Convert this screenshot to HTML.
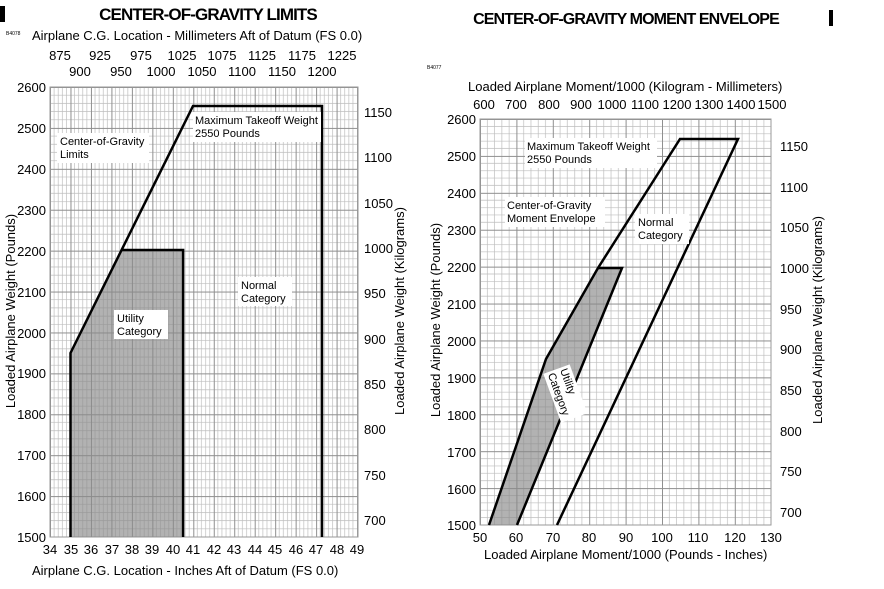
<!DOCTYPE html>
<html><head><meta charset="utf-8"><style>
body{margin:0;background:#fff}
svg{font-family:"Liberation Sans",Arial,sans-serif}
</style></head><body>
<svg width="884" height="584" viewBox="0 0 884 584" xmlns="http://www.w3.org/2000/svg">
<defs>
<pattern id="gL" x="50" y="87" width="20.47" height="40.91" patternUnits="userSpaceOnUse">
<g stroke="#bdbdbd" stroke-width="0.7">
<line x1="4.09" y1="0" x2="4.09" y2="41"/><line x1="8.19" y1="0" x2="8.19" y2="41"/><line x1="12.28" y1="0" x2="12.28" y2="41"/><line x1="16.38" y1="0" x2="16.38" y2="41"/>
<line x1="0" y1="8.18" x2="21" y2="8.18"/><line x1="0" y1="16.36" x2="21" y2="16.36"/><line x1="0" y1="24.55" x2="21" y2="24.55"/><line x1="0" y1="32.73" x2="21" y2="32.73"/>
</g>
<g stroke="#8f8f8f" stroke-width="1"><line x1="0.5" y1="0" x2="0.5" y2="41"/><line x1="0" y1="0.5" x2="21" y2="0.5"/></g>
</pattern>
<pattern id="gR" x="480" y="119" width="36.4" height="36.91" patternUnits="userSpaceOnUse">
<g stroke="#bdbdbd" stroke-width="0.7">
<line x1="7.28" y1="0" x2="7.28" y2="37"/><line x1="14.56" y1="0" x2="14.56" y2="37"/><line x1="21.84" y1="0" x2="21.84" y2="37"/><line x1="29.12" y1="0" x2="29.12" y2="37"/>
<line x1="0" y1="7.38" x2="37" y2="7.38"/><line x1="0" y1="14.76" x2="37" y2="14.76"/><line x1="0" y1="22.15" x2="37" y2="22.15"/><line x1="0" y1="29.53" x2="37" y2="29.53"/>
</g>
<g stroke="#8f8f8f" stroke-width="1"><line x1="0.5" y1="0" x2="0.5" y2="37"/><line x1="0" y1="0.5" x2="37" y2="0.5"/></g>
</pattern>
</defs>

<!-- LEFT CHART -->
<rect x="0" y="6" width="5" height="16" fill="#000"/>
<text x="208" y="20" font-size="17" font-weight="bold" text-anchor="middle" letter-spacing="-0.9">CENTER-OF-GRAVITY LIMITS</text>
<text x="6" y="35" font-size="5">B4078</text>
<text x="32" y="40" font-size="13">Airplane C.G. Location - Millimeters Aft of Datum (FS 0.0)</text>
<g font-size="13" text-anchor="middle">
<text x="60" y="60">875</text><text x="100" y="60">925</text><text x="141" y="60">975</text><text x="182" y="60">1025</text><text x="222" y="60">1075</text><text x="262" y="60">1125</text><text x="302" y="60">1175</text><text x="342" y="60">1225</text>
<text x="80" y="76">900</text><text x="121" y="76">950</text><text x="161" y="76">1000</text><text x="202" y="76">1050</text><text x="242" y="76">1100</text><text x="282" y="76">1150</text><text x="322" y="76">1200</text>
</g>
<rect x="50" y="87" width="308" height="450" fill="url(#gL)" stroke="#999"/>
<polygon points="70.5,537 70.5,353 121.7,250 183.1,250 183.1,537" fill="#888" fill-opacity="0.65"/>
<polyline points="70.5,537 70.5,353 193,106 322,106 322,537" fill="none" stroke="#000" stroke-width="2.5"/>
<polyline points="121.7,250 183.1,250 183.1,537" fill="none" stroke="#000" stroke-width="2.5"/>
<g font-size="13" text-anchor="end">
<text x="46" y="92">2600</text><text x="46" y="133">2500</text><text x="46" y="174">2400</text><text x="46" y="215">2300</text><text x="46" y="256">2200</text><text x="46" y="297">2100</text><text x="46" y="338">2000</text><text x="46" y="378">1900</text><text x="46" y="419">1800</text><text x="46" y="460">1700</text><text x="46" y="501">1600</text><text x="46" y="542">1500</text>
</g>
<g font-size="13" text-anchor="middle">
<text x="50" y="554">34</text><text x="71" y="554">35</text><text x="91" y="554">36</text><text x="112" y="554">37</text><text x="132" y="554">38</text><text x="152" y="554">39</text><text x="173" y="554">40</text><text x="193" y="554">41</text><text x="214" y="554">42</text><text x="234" y="554">43</text><text x="255" y="554">44</text><text x="275" y="554">45</text><text x="296" y="554">46</text><text x="316" y="554">47</text><text x="337" y="554">48</text><text x="357" y="554">49</text>
</g>
<text x="32" y="575" font-size="13">Airplane C.G. Location - Inches Aft of Datum (FS 0.0)</text>
<g font-size="13">
<text x="364" y="117">1150</text><text x="364" y="162">1100</text><text x="364" y="208">1050</text><text x="364" y="253">1000</text><text x="364" y="298">950</text><text x="364" y="344">900</text><text x="364" y="389">850</text><text x="364" y="434">800</text><text x="364" y="480">750</text><text x="364" y="525">700</text>
</g>
<text transform="translate(15,311) rotate(-90)" font-size="13" text-anchor="middle">Loaded Airplane Weight (Pounds)</text>
<text transform="translate(404,311) rotate(-90)" font-size="13" text-anchor="middle">Loaded Airplane Weight (Kilograms)</text>
<rect x="57" y="133" width="92" height="30" fill="#fff"/>
<text x="60" y="145" font-size="11">Center-of-Gravity</text><text x="60" y="158" font-size="11">Limits</text>
<rect x="193" y="112" width="128" height="30" fill="#fff"/>
<text x="195" y="124" font-size="11">Maximum Takeoff Weight</text><text x="195" y="137" font-size="11">2550 Pounds</text>
<rect x="238" y="277" width="54" height="29" fill="#fff"/>
<text x="241" y="289" font-size="11">Normal</text><text x="241" y="302" font-size="11">Category</text>
<rect x="114" y="310" width="54" height="29" fill="#fff"/>
<text x="117" y="322" font-size="11">Utility</text><text x="117" y="335" font-size="11">Category</text>

<!-- RIGHT CHART -->
<rect x="829" y="10" width="4" height="16" fill="#000"/>
<text x="626" y="24" font-size="16" font-weight="bold" text-anchor="middle" letter-spacing="-0.9">CENTER-OF-GRAVITY MOMENT ENVELOPE</text>
<text x="427" y="69" font-size="5">B4077</text>
<text x="468" y="91" font-size="13">Loaded Airplane Moment/1000 (Kilogram - Millimeters)</text>
<g font-size="13" text-anchor="middle">
<text x="484" y="109">600</text><text x="516" y="109">700</text><text x="549" y="109">800</text><text x="581" y="109">900</text><text x="612" y="109">1000</text><text x="645" y="109">1100</text><text x="677" y="109">1200</text><text x="709" y="109">1300</text><text x="741" y="109">1400</text><text x="772" y="109">1500</text>
</g>
<rect x="480" y="119" width="291" height="406" fill="url(#gR)" stroke="#999"/>
<polygon points="489,525 546,359 598,268 622,268 517,525" fill="#888" fill-opacity="0.65"/>
<polyline points="489,525 546,359 598,268 680,139 738,139 557,525" fill="none" stroke="#000" stroke-width="2.5"/>
<polyline points="598,268 622,268 517,525" fill="none" stroke="#000" stroke-width="2.5"/>
<g font-size="13" text-anchor="end">
<text x="476" y="124">2600</text><text x="476" y="161">2500</text><text x="476" y="198">2400</text><text x="476" y="235">2300</text><text x="476" y="272">2200</text><text x="476" y="309">2100</text><text x="476" y="346">2000</text><text x="476" y="383">1900</text><text x="476" y="420">1800</text><text x="476" y="457">1700</text><text x="476" y="494">1600</text><text x="476" y="530">1500</text>
</g>
<g font-size="13" text-anchor="middle">
<text x="480" y="542">50</text><text x="516" y="542">60</text><text x="553" y="542">70</text><text x="589" y="542">80</text><text x="626" y="542">90</text><text x="662" y="542">100</text><text x="698" y="542">110</text><text x="735" y="542">120</text><text x="771" y="542">130</text>
</g>
<text x="484" y="559" font-size="13">Loaded Airplane Moment/1000 (Pounds - Inches)</text>
<g font-size="13">
<text x="780" y="151">1150</text><text x="780" y="192">1100</text><text x="780" y="232">1050</text><text x="780" y="273">1000</text><text x="780" y="314">950</text><text x="780" y="354">900</text><text x="780" y="395">850</text><text x="780" y="436">800</text><text x="780" y="476">750</text><text x="780" y="517">700</text>
</g>
<text transform="translate(440,320) rotate(-90)" font-size="13" text-anchor="middle">Loaded Airplane Weight (Pounds)</text>
<text transform="translate(822,320) rotate(-90)" font-size="13" text-anchor="middle">Loaded Airplane Weight (Kilograms)</text>
<rect x="525" y="138" width="132" height="30" fill="#fff"/>
<text x="527" y="150" font-size="11">Maximum Takeoff Weight</text><text x="527" y="163" font-size="11">2550 Pounds</text>
<rect x="505" y="197" width="100" height="30" fill="#fff"/>
<text x="507" y="209" font-size="11">Center-of-Gravity</text><text x="507" y="222" font-size="11">Moment Envelope</text>
<rect x="635" y="214" width="54" height="30" fill="#fff"/>
<text x="638" y="226" font-size="11">Normal</text><text x="638" y="239" font-size="11">Category</text>
<g transform="translate(560,370) rotate(70)">
<rect x="-2" y="-11" width="52" height="28" fill="#fff"/>
<text x="0" y="0" font-size="11">Utility</text><text x="0" y="13" font-size="11">Category</text>
</g>
</svg>
</body></html>
